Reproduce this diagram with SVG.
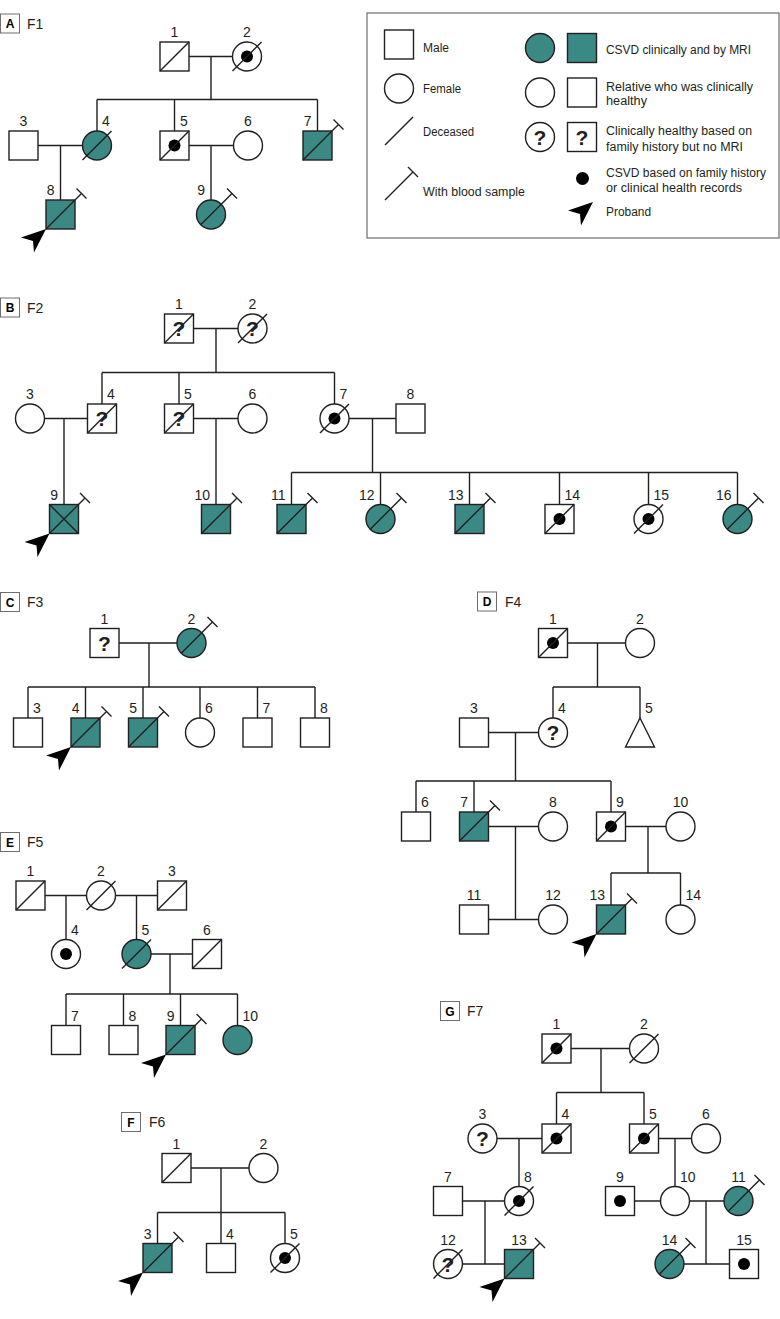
<svg xmlns="http://www.w3.org/2000/svg" width="780" height="1319" viewBox="0 0 780 1319">
<style>
.s{fill:#fff;stroke:#231f20;stroke-width:1.4}
.tl{fill:#3b8985}
.k{stroke:#231f20;stroke-width:1.4;fill:none}
.d{fill:#000}
.n{font-family:"Liberation Sans",Arial,sans-serif;font-size:14px;fill:#231f20}
.c{text-anchor:middle}
.e{text-anchor:end}
.q{font-family:"Liberation Sans",Arial,sans-serif;font-size:21px;font-weight:bold;fill:#231f20;text-anchor:middle}
.bx{fill:#fff;stroke:#6d6d6d;stroke-width:1}
.pl{font-family:"Liberation Sans",Arial,sans-serif;font-size:12px;font-weight:bold;fill:#000;text-anchor:middle}
.pt{font-family:"Liberation Sans",Arial,sans-serif;font-size:14px;fill:#231f20}
.lg{font-family:"Liberation Sans",Arial,sans-serif;font-size:12.5px;fill:#231f20}
.cn{stroke:#231f20;stroke-width:1.4;fill:none}
</style>
<defs>
<path id="pb" d="M0,0 L-25,8.5 L-13,12 L-12,23.5 Z" fill="#000"/>
</defs>
<rect width="780" height="1319" fill="#fff"/>

<!-- panel labels -->
<g id="panel-labels">
<rect class="bx" x="0.5" y="14" width="19" height="19"/><text class="pl" x="10" y="28">A</text><text class="pt" x="27" y="29">F1</text>
<rect class="bx" x="0.5" y="298" width="19" height="19"/><text class="pl" x="10" y="312">B</text><text class="pt" x="27" y="312.5">F2</text>
<rect class="bx" x="0.5" y="592.5" width="19" height="19"/><text class="pl" x="10" y="606.5">C</text><text class="pt" x="27" y="607">F3</text>
<rect class="bx" x="477.5" y="592" width="19" height="19"/><text class="pl" x="487" y="606">D</text><text class="pt" x="505" y="606.5">F4</text>
<rect class="bx" x="0.5" y="832.5" width="19" height="19"/><text class="pl" x="10" y="846.5">E</text><text class="pt" x="27" y="847">F5</text>
<rect class="bx" x="121.5" y="1112.5" width="19" height="19"/><text class="pl" x="131" y="1126.5">F</text><text class="pt" x="149" y="1127">F6</text>
<rect class="bx" x="440.5" y="1001.5" width="19" height="19"/><text class="pl" x="450" y="1015.5">G</text><text class="pt" x="467" y="1016">F7</text>
</g>

<!-- legend -->
<g id="legend">
<rect x="367" y="13" width="412" height="225" fill="#fff" stroke="#6d6d6d" stroke-width="1.2"/>
<rect class="s" x="384.5" y="30" width="29" height="29"/>
<text class="lg" x="423" y="52" textLength="26" lengthAdjust="spacingAndGlyphs">Male</text>
<circle class="s" cx="399" cy="88.5" r="14.5"/>
<text class="lg" x="423" y="93" textLength="38" lengthAdjust="spacingAndGlyphs">Female</text>
<line class="k" x1="385" y1="145" x2="413" y2="117"/>
<text class="lg" x="423" y="136" textLength="51" lengthAdjust="spacingAndGlyphs">Deceased</text>
<path class="k" d="M385,200 L413,172 M408,167 L418,177"/>
<text class="lg" x="423" y="196" textLength="102" lengthAdjust="spacingAndGlyphs">With blood sample</text>
<circle class="s tl" cx="540" cy="48" r="14.5"/>
<rect class="s tl" x="567.5" y="33.5" width="29" height="29"/>
<text class="lg" x="606" y="53.5" textLength="145" lengthAdjust="spacingAndGlyphs">CSVD clinically and by MRI</text>
<circle class="s" cx="540" cy="92.5" r="14.5"/>
<rect class="s" x="567.5" y="78" width="29" height="29"/>
<text class="lg" x="606" y="90.5" textLength="147" lengthAdjust="spacingAndGlyphs">Relative who was clinically</text>
<text class="lg" x="606" y="105" textLength="41" lengthAdjust="spacingAndGlyphs">healthy</text>
<circle class="s" cx="540" cy="137" r="14.5"/>
<text class="q" x="540" y="144.5">?</text>
<rect class="s" x="567.5" y="122.5" width="29" height="29"/>
<text class="q" x="582" y="144.5">?</text>
<text class="lg" x="606" y="135" textLength="146" lengthAdjust="spacingAndGlyphs">Clinically healthy based on</text>
<text class="lg" x="606" y="150.5" textLength="137" lengthAdjust="spacingAndGlyphs">family history but no MRI</text>
<circle class="d" cx="582.5" cy="178.5" r="6.5"/>
<text class="lg" x="606" y="176.5" textLength="160" lengthAdjust="spacingAndGlyphs">CSVD based on family history</text>
<text class="lg" x="606" y="191.5" textLength="136" lengthAdjust="spacingAndGlyphs">or clinical health records</text>
<use href="#pb" x="593" y="202"/>
<text class="lg" x="606" y="216" textLength="45" lengthAdjust="spacingAndGlyphs">Proband</text>
</g>

<!-- connectors -->
<g id="connectors" class="cn">
<path d="M189,56.5 H232.5 M211,56.5 V99.5 M97,99.5 H317.5 M97,99.5 V131 M174.5,99.5 V131 M317.5,99.5 V131"/>
<path d="M38,145.5 H82.5 M60.5,145.5 V200 M189,145.5 H233.5 M211,145.5 V200"/>
<path d="M193.5,328.5 H238 M216,328.5 V372.5 M102,372.5 H334.5 M102,372.5 V404 M179,372.5 V404 M334.5,372.5 V404"/>
<path d="M44.5,418.5 H87.5 M64,418.5 V504.5 M193.5,418.5 H238 M216,418.5 V504.5 M349,418.5 H396 M372.5,418.5 V472.5"/>
<path d="M291.5,472.5 H737.5 M291.5,472.5 V504.5 M380.5,472.5 V504.5 M469.5,472.5 V504.5 M559.5,472.5 V504.5 M648.5,472.5 V504.5 M737.5,472.5 V504.5"/>
<path d="M119,643 H177 M149,643 V687 M28,687 H315 M28,687 V718 M85.5,687 V718 M143,687 V718 M200,687 V718 M257.5,687 V718 M315,687 V718"/>
<path d="M567.5,643 H625.5 M597.5,643 V687 M553,687 H640 M553,687 V718 M640,687 V718"/>
<path d="M488.5,732.5 H538.5 M515.5,732.5 V781 M416,781 H611 M416,781 V812 M474,781 V812 M611,781 V812"/>
<path d="M488.5,826.5 H538.5 M515.5,826.5 V919.5 M625.5,826.5 H666 M648,826.5 V873 M611,873 H680.5 M611,873 V905 M680.5,873 V905 M488.5,919.5 H538.5"/>
<path d="M45,895.5 H86.5 M66,895.5 V939.5 M115.5,895.5 H157.5 M136.5,895.5 V939.5"/>
<path d="M151,954 H192.5 M170,954 V994 M66,994 H237.5 M66,994 V1025.5 M123.5,994 V1025.5 M180.5,994 V1025.5 M237.5,994 V1025.5"/>
<path d="M191,1168 H249 M221,1168 V1243.5 M157.5,1212.5 H285 M157.5,1212.5 V1243.5 M285,1212.5 V1243.5"/>
<path d="M571,1048.5 H629.5 M601,1048.5 V1092.5 M556.5,1092.5 H644 M556.5,1092.5 V1124 M644,1092.5 V1124"/>
<path d="M497,1138.5 H542 M519,1138.5 V1186.5 M658.5,1138.5 H691.5 M675,1138.5 V1186.5"/>
<path d="M462.5,1201 H504.5 M485,1201 V1264 M634.5,1201 H660.5 M689.5,1201 H724 M706,1201 V1264 M462.5,1264 H504.5 M684,1264 H729.5"/>
</g>

<!-- Panel A nodes -->
<g id="A1"><rect class="s" x="160" y="42" width="29" height="29"/><line class="k" x1="160" y1="71" x2="189" y2="42"/><text class="n c" x="174.5" y="37">1</text></g>
<g id="A2"><circle class="s" cx="247" cy="56.5" r="14.5"/><circle class="d" cx="247" cy="56.5" r="6"/><line class="k" x1="232.5" y1="71" x2="261.5" y2="42"/><text class="n c" x="247" y="37">2</text></g>
<g id="A3"><rect class="s" x="9" y="131" width="29" height="29"/><text class="n c" x="23.5" y="126">3</text></g>
<g id="A4"><circle class="s tl" cx="97" cy="145.5" r="14.5"/><line class="k" x1="82.5" y1="160" x2="111.5" y2="131"/><text class="n" x="102" y="126">4</text></g>
<g id="A5"><rect class="s" x="160" y="131" width="29" height="29"/><circle class="d" cx="174.5" cy="145.5" r="6"/><line class="k" x1="160" y1="160" x2="189" y2="131"/><text class="n" x="180" y="126">5</text></g>
<g id="A6"><circle class="s" cx="248" cy="145.5" r="14.5"/><text class="n c" x="248" y="126">6</text></g>
<g id="A7"><rect class="s tl" x="303" y="131" width="29" height="29"/><path class="k" d="M303,160 L338.5,124.5 M333.5,119.5 L343.5,129.5"/><text class="n e" x="311.5" y="126">7</text></g>
<g id="A8"><rect class="s tl" x="46" y="200" width="29" height="29"/><path class="k" d="M46,229 L81.5,193.5 M76.5,188.5 L86.5,198.5"/><text class="n e" x="54.5" y="195">8</text><use href="#pb" x="46" y="229"/></g>
<g id="A9"><circle class="s tl" cx="211" cy="214.5" r="14.5"/><path class="k" d="M200.7,224.8 L232,193.5 M227,188.5 L237,198.5"/><text class="n e" x="205" y="195">9</text></g>

<!-- Panel B nodes -->
<g id="B1"><rect class="s" x="164.5" y="314" width="29" height="29"/><text class="q" x="179" y="336">?</text><line class="k" x1="164.5" y1="343" x2="193.5" y2="314"/><text class="n c" x="179" y="309">1</text></g>
<g id="B2"><circle class="s" cx="252.5" cy="328.5" r="14.5"/><text class="q" x="252.5" y="336">?</text><line class="k" x1="238" y1="343" x2="267" y2="314"/><text class="n c" x="252.5" y="309">2</text></g>
<g id="B3"><circle class="s" cx="30" cy="418.5" r="14.5"/><text class="n c" x="30" y="399">3</text></g>
<g id="B4"><rect class="s" x="87.5" y="404" width="29" height="29"/><text class="q" x="102" y="426">?</text><line class="k" x1="87.5" y1="433" x2="116.5" y2="404"/><text class="n" x="107" y="399">4</text></g>
<g id="B5"><rect class="s" x="164.5" y="404" width="29" height="29"/><text class="q" x="179" y="426">?</text><line class="k" x1="164.5" y1="433" x2="193.5" y2="404"/><text class="n" x="184" y="399">5</text></g>
<g id="B6"><circle class="s" cx="252.5" cy="418.5" r="14.5"/><text class="n c" x="252.5" y="399">6</text></g>
<g id="B7"><circle class="s" cx="334.5" cy="418.5" r="14.5"/><circle class="d" cx="334.5" cy="418.5" r="6"/><line class="k" x1="320" y1="433" x2="349" y2="404"/><text class="n" x="339.5" y="399">7</text></g>
<g id="B8"><rect class="s" x="396" y="404" width="29" height="29"/><text class="n c" x="410.5" y="399">8</text></g>
<g id="B9"><rect class="s tl" x="49.5" y="504.5" width="29" height="29"/><path class="k" d="M49.5,533.5 L85,498 M80,493 L90,503 M49.5,504.5 L78.5,533.5"/><text class="n e" x="58" y="499.5">9</text><use href="#pb" x="49.5" y="533.5"/></g>
<g id="B10"><rect class="s tl" x="201.5" y="504.5" width="29" height="29"/><path class="k" d="M201.5,533.5 L237,498 M232,493 L242,503"/><text class="n e" x="210" y="499.5">10</text></g>
<g id="B11"><rect class="s tl" x="277" y="504.5" width="29" height="29"/><path class="k" d="M277,533.5 L312.5,498 M307.5,493 L317.5,503"/><text class="n e" x="285.5" y="499.5">11</text></g>
<g id="B12"><circle class="s tl" cx="380.5" cy="519" r="14.5"/><path class="k" d="M370.2,529.3 L401.5,498 M396.5,493 L406.5,503"/><text class="n e" x="374.5" y="499.5">12</text></g>
<g id="B13"><rect class="s tl" x="455" y="504.5" width="29" height="29"/><path class="k" d="M455,533.5 L490.5,498 M485.5,493 L495.5,503"/><text class="n e" x="463.5" y="499.5">13</text></g>
<g id="B14"><rect class="s" x="545" y="504.5" width="29" height="29"/><circle class="d" cx="559.5" cy="519" r="6"/><line class="k" x1="545" y1="533.5" x2="574" y2="504.5"/><text class="n" x="564.5" y="499.5">14</text></g>
<g id="B15"><circle class="s" cx="648.5" cy="519" r="14.5"/><circle class="d" cx="648.5" cy="519" r="6"/><line class="k" x1="634" y1="533.5" x2="663" y2="504.5"/><text class="n" x="653.5" y="499.5">15</text></g>
<g id="B16"><circle class="s tl" cx="737.5" cy="519" r="14.5"/><path class="k" d="M727.2,529.3 L758.5,498 M753.5,493 L763.5,503"/><text class="n e" x="731.5" y="499.5">16</text></g>

<!-- Panel C nodes -->
<g id="C1"><rect class="s" x="90" y="628.5" width="29" height="29"/><text class="q" x="104.5" y="650.5">?</text><text class="n c" x="104.5" y="623.5">1</text></g>
<g id="C2"><circle class="s tl" cx="191.5" cy="643" r="14.5"/><path class="k" d="M181.2,653.3 L212.5,622 M207.5,617 L217.5,627"/><text class="n c" x="191.5" y="623.5">2</text></g>
<g id="C3"><rect class="s" x="13.5" y="718" width="29" height="29"/><text class="n" x="33" y="713">3</text></g>
<g id="C4"><rect class="s tl" x="71" y="718" width="29" height="29"/><path class="k" d="M71,747 L106.5,711.5 M101.5,706.5 L111.5,716.5"/><text class="n e" x="79.5" y="713">4</text><use href="#pb" x="71" y="747"/></g>
<g id="C5"><rect class="s tl" x="128.5" y="718" width="29" height="29"/><path class="k" d="M128.5,747 L164,711.5 M159,706.5 L169,716.5"/><text class="n e" x="137" y="713">5</text></g>
<g id="C6"><circle class="s" cx="200" cy="732.5" r="14.5"/><text class="n" x="205" y="713">6</text></g>
<g id="C7"><rect class="s" x="243" y="718" width="29" height="29"/><text class="n" x="262.5" y="713">7</text></g>
<g id="C8"><rect class="s" x="300.5" y="718" width="29" height="29"/><text class="n" x="320" y="713">8</text></g>

<!-- Panel D nodes -->
<g id="D1"><rect class="s" x="538.5" y="628.5" width="29" height="29"/><circle class="d" cx="553" cy="643" r="6"/><line class="k" x1="538.5" y1="657.5" x2="567.5" y2="628.5"/><text class="n c" x="553" y="623.5">1</text></g>
<g id="D2"><circle class="s" cx="640" cy="643" r="14.5"/><text class="n c" x="640" y="623.5">2</text></g>
<g id="D3"><rect class="s" x="459.5" y="718" width="29" height="29"/><text class="n c" x="474" y="713">3</text></g>
<g id="D4"><circle class="s" cx="553" cy="732.5" r="14.5"/><text class="q" x="553" y="740">?</text><text class="n" x="558" y="713">4</text></g>
<g id="D5"><polygon class="s" points="640,718 625.5,747 654.5,747"/><text class="n" x="645" y="713">5</text></g>
<g id="D6"><rect class="s" x="401.5" y="812" width="29" height="29"/><text class="n" x="421" y="807">6</text></g>
<g id="D7"><rect class="s tl" x="459.5" y="812" width="29" height="29"/><path class="k" d="M459.5,841 L495,805.5 M490,800.5 L500,810.5"/><text class="n e" x="468" y="807">7</text></g>
<g id="D8"><circle class="s" cx="553" cy="826.5" r="14.5"/><text class="n c" x="553" y="807">8</text></g>
<g id="D9"><rect class="s" x="596.5" y="812" width="29" height="29"/><circle class="d" cx="611" cy="826.5" r="6"/><line class="k" x1="596.5" y1="841" x2="625.5" y2="812"/><text class="n" x="616" y="807">9</text></g>
<g id="D10"><circle class="s" cx="680.5" cy="826.5" r="14.5"/><text class="n c" x="680.5" y="807">10</text></g>
<g id="D11"><rect class="s" x="459.5" y="905" width="29" height="29"/><text class="n c" x="474" y="900">11</text></g>
<g id="D12"><circle class="s" cx="553" cy="919.5" r="14.5"/><text class="n c" x="553" y="900">12</text></g>
<g id="D13"><rect class="s tl" x="596.5" y="905" width="29" height="29"/><path class="k" d="M596.5,934 L632,898.5 M627,893.5 L637,903.5"/><text class="n e" x="605" y="900">13</text><use href="#pb" x="596.5" y="934"/></g>
<g id="D14"><circle class="s" cx="680.5" cy="919.5" r="14.5"/><text class="n" x="685.5" y="900">14</text></g>

<!-- Panel E nodes -->
<g id="E1"><rect class="s" x="16" y="881" width="29" height="29"/><line class="k" x1="16" y1="910" x2="45" y2="881"/><text class="n c" x="30.5" y="876">1</text></g>
<g id="E2"><circle class="s" cx="101" cy="895.5" r="14.5"/><line class="k" x1="86.5" y1="910" x2="115.5" y2="881"/><text class="n c" x="101" y="876">2</text></g>
<g id="E3"><rect class="s" x="157.5" y="881" width="29" height="29"/><line class="k" x1="157.5" y1="910" x2="186.5" y2="881"/><text class="n c" x="172" y="876">3</text></g>
<g id="E4"><circle class="s" cx="66" cy="954" r="14.5"/><circle class="d" cx="66" cy="954" r="6"/><text class="n" x="71" y="934.5">4</text></g>
<g id="E5"><circle class="s tl" cx="136.5" cy="954" r="14.5"/><line class="k" x1="122" y1="968.5" x2="151" y2="939.5"/><text class="n" x="141.5" y="934.5">5</text></g>
<g id="E6"><rect class="s" x="192.5" y="939.5" width="29" height="29"/><line class="k" x1="192.5" y1="968.5" x2="221.5" y2="939.5"/><text class="n c" x="207" y="934.5">6</text></g>
<g id="E7"><rect class="s" x="51.5" y="1025.5" width="29" height="29"/><text class="n" x="71" y="1020.5">7</text></g>
<g id="E8"><rect class="s" x="109" y="1025.5" width="29" height="29"/><text class="n" x="128.5" y="1020.5">8</text></g>
<g id="E9"><rect class="s tl" x="166" y="1025.5" width="29" height="29"/><path class="k" d="M166,1054.5 L201.5,1019 M196.5,1014 L206.5,1024"/><text class="n e" x="174.5" y="1020.5">9</text><use href="#pb" x="166" y="1054.5"/></g>
<g id="E10"><circle class="s tl" cx="237.5" cy="1040" r="14.5"/><text class="n" x="242.5" y="1020.5">10</text></g>

<!-- Panel F nodes -->
<g id="F1"><rect class="s" x="162" y="1153.5" width="29" height="29"/><line class="k" x1="162" y1="1182.5" x2="191" y2="1153.5"/><text class="n c" x="176.5" y="1148.5">1</text></g>
<g id="F2"><circle class="s" cx="263.5" cy="1168" r="14.5"/><text class="n c" x="263.5" y="1148.5">2</text></g>
<g id="F3"><rect class="s tl" x="143" y="1243.5" width="29" height="29"/><path class="k" d="M143,1272.5 L178.5,1237 M173.5,1232 L183.5,1242"/><text class="n e" x="151.5" y="1238.5">3</text><use href="#pb" x="143" y="1272.5"/></g>
<g id="F4"><rect class="s" x="206.5" y="1243.5" width="29" height="29"/><text class="n" x="226" y="1238.5">4</text></g>
<g id="F5"><circle class="s" cx="285" cy="1258" r="14.5"/><circle class="d" cx="285" cy="1258" r="6"/><line class="k" x1="270.5" y1="1272.5" x2="299.5" y2="1243.5"/><text class="n" x="290" y="1238.5">5</text></g>

<!-- Panel G nodes -->
<g id="G1"><rect class="s" x="542" y="1034" width="29" height="29"/><circle class="d" cx="556.5" cy="1048.5" r="6"/><line class="k" x1="542" y1="1063" x2="571" y2="1034"/><text class="n c" x="556.5" y="1029">1</text></g>
<g id="G2"><circle class="s" cx="644" cy="1048.5" r="14.5"/><line class="k" x1="629.5" y1="1063" x2="658.5" y2="1034"/><text class="n c" x="644" y="1029">2</text></g>
<g id="G3"><circle class="s" cx="482.5" cy="1138.5" r="14.5"/><text class="q" x="482.5" y="1146">?</text><text class="n c" x="482.5" y="1119">3</text></g>
<g id="G4"><rect class="s" x="542" y="1124" width="29" height="29"/><circle class="d" cx="556.5" cy="1138.5" r="6"/><line class="k" x1="542" y1="1153" x2="571" y2="1124"/><text class="n" x="561.5" y="1119">4</text></g>
<g id="G5"><rect class="s" x="629.5" y="1124" width="29" height="29"/><circle class="d" cx="644" cy="1138.5" r="6"/><line class="k" x1="629.5" y1="1153" x2="658.5" y2="1124"/><text class="n" x="649" y="1119">5</text></g>
<g id="G6"><circle class="s" cx="706" cy="1138.5" r="14.5"/><text class="n c" x="706" y="1119">6</text></g>
<g id="G7"><rect class="s" x="433.5" y="1186.5" width="29" height="29"/><text class="n c" x="448" y="1181.5">7</text></g>
<g id="G8"><circle class="s" cx="519" cy="1201" r="14.5"/><circle class="d" cx="519" cy="1201" r="6"/><line class="k" x1="504.5" y1="1215.5" x2="533.5" y2="1186.5"/><text class="n" x="524" y="1181.5">8</text></g>
<g id="G9"><rect class="s" x="605.5" y="1186.5" width="29" height="29"/><circle class="d" cx="620" cy="1201" r="6"/><text class="n c" x="620" y="1181.5">9</text></g>
<g id="G10"><circle class="s" cx="675" cy="1201" r="14.5"/><text class="n" x="680" y="1181.5">10</text></g>
<g id="G11"><circle class="s tl" cx="738.5" cy="1201" r="14.5"/><path class="k" d="M728.2,1211.3 L759.5,1180 M754.5,1175 L764.5,1185"/><text class="n c" x="738.5" y="1181.5">11</text></g>
<g id="G12"><circle class="s" cx="448" cy="1264" r="14.5"/><text class="q" x="448" y="1271.5">?</text><line class="k" x1="433.5" y1="1278.5" x2="462.5" y2="1249.5"/><text class="n c" x="448" y="1244.5">12</text></g>
<g id="G13"><rect class="s tl" x="504.5" y="1249.5" width="29" height="29"/><path class="k" d="M504.5,1278.5 L540,1243 M535,1238 L545,1248"/><text class="n c" x="519" y="1244.5">13</text><use href="#pb" x="504.5" y="1278.5"/></g>
<g id="G14"><circle class="s tl" cx="669.5" cy="1264" r="14.5"/><path class="k" d="M659.2,1274.3 L690.5,1243 M685.5,1238 L695.5,1248"/><text class="n c" x="669.5" y="1244.5">14</text></g>
<g id="G15"><rect class="s" x="729.5" y="1249.5" width="29" height="29"/><circle class="d" cx="744" cy="1264" r="6"/><text class="n c" x="744" y="1244.5">15</text></g>
</svg>
